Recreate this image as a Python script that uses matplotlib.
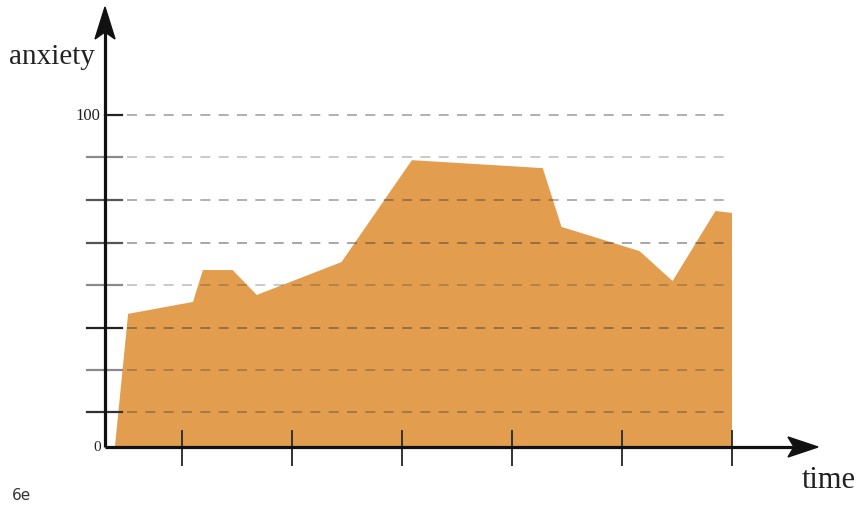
import matplotlib
matplotlib.use("Agg")
import matplotlib.pyplot as plt
from matplotlib.patches import Polygon
from matplotlib.transforms import IdentityTransform

# time (tick units) and anxiety (0-100)
time = [0.39, 0.51, 1.10, 1.19, 1.46, 1.68, 2.45, 3.09, 4.28, 4.45, 5.16, 5.46, 5.85, 6.00, 6.00]
anxiety = [0, 40.1, 43.7, 53.3, 53.3, 45.8, 55.7, 86.4, 84.0, 66.3, 59.0, 50.0, 71.1, 70.5, 0]

grid_levels = [100, 87.2, 74.4, 61.5, 48.9, 35.8, 23.2, 10.5]
tick_shades = ['#222222', '#8a8a8a', '#555555', '#555555', '#8a8a8a', '#222222', '#8a8a8a', '#333333']
grid_alpha = [0.45, 0.3, 0.45, 0.5, 0.3, 0.5, 0.35, 0.4]
time_ticks = [1, 2, 3, 4, 5, 6]

W, H = 863, 510
fig = plt.figure(figsize=(W / 100, H / 100), dpi=100)
ax = fig.add_axes([0, 0, 1, 1])
# pixel -> data: px = 72 + 110*t , py = 448 - 3.32*a
ax.set_xlim(-72 / 110, (W - 72) / 110)
ax.set_ylim((448 - H) / 3.32, 448 / 3.32)
ax.axis('off')

def tx(px):
    return (px - 72) / 110

def ay(py):
    return (448 - py) / 3.32

x0 = tx(105)

ax.fill(time, anxiety, color='#E29E4E', lw=0, zorder=1)

for lvl, sh, al in zip(grid_levels, tick_shades, grid_alpha):
    ax.plot([tx(127), tx(730)], [lvl, lvl], color='#333333', alpha=al, lw=1.2,
            dashes=(6, 5), zorder=2)
    left = x0 if lvl == 100 else tx(87)
    ax.plot([left, tx(122)], [lvl, lvl], color=sh, lw=1.6, zorder=3)

for t in time_ticks:
    ax.plot([t, t], [ay(432), ay(466)], color='#333333', lw=1.4, zorder=3)

# axes with arrowheads
ax.plot([x0, x0], [0, ay(30)], color='#111111', lw=2.3, zorder=4, solid_capstyle='butt')
ax.plot([x0, tx(800)], [0, 0], color='#111111', lw=2.3, zorder=4, solid_capstyle='butt')
fig.canvas.draw()
ox, oy = ax.transData.transform((x0, 0))
tip_y = H - 8
up = [(ox, tip_y), (ox - 10, tip_y - 32), (ox, tip_y - 25), (ox + 10, tip_y - 32)]
tip_x = 818
right = [(tip_x, oy), (tip_x - 30, oy + 10), (tip_x - 24, oy), (tip_x - 30, oy - 10)]
for pts in (up, right):
    ax.add_patch(Polygon(pts, closed=True, color='#111111', transform=IdentityTransform(), zorder=5))

serif = 'Liberation Serif'
ax.text(tx(52), ay(57), 'anxiety', fontsize=21, family=serif, ha='center', va='center', color='#222222')
ax.text(tx(829), ay(481), 'time', fontsize=22, family=serif, ha='center', va='center', color='#222222')
ax.text(tx(100), 100, '100', fontsize=12, family=serif, ha='right', va='center', color='#222222')
ax.text(tx(101), 0, '0', fontsize=11, family=serif, ha='right', va='center', color='#222222')
ax.text(tx(12), ay(496), '6e', fontsize=11, family='DejaVu Sans', ha='left', va='center', color='#333333')

fig.savefig('out.png', dpi=100)
